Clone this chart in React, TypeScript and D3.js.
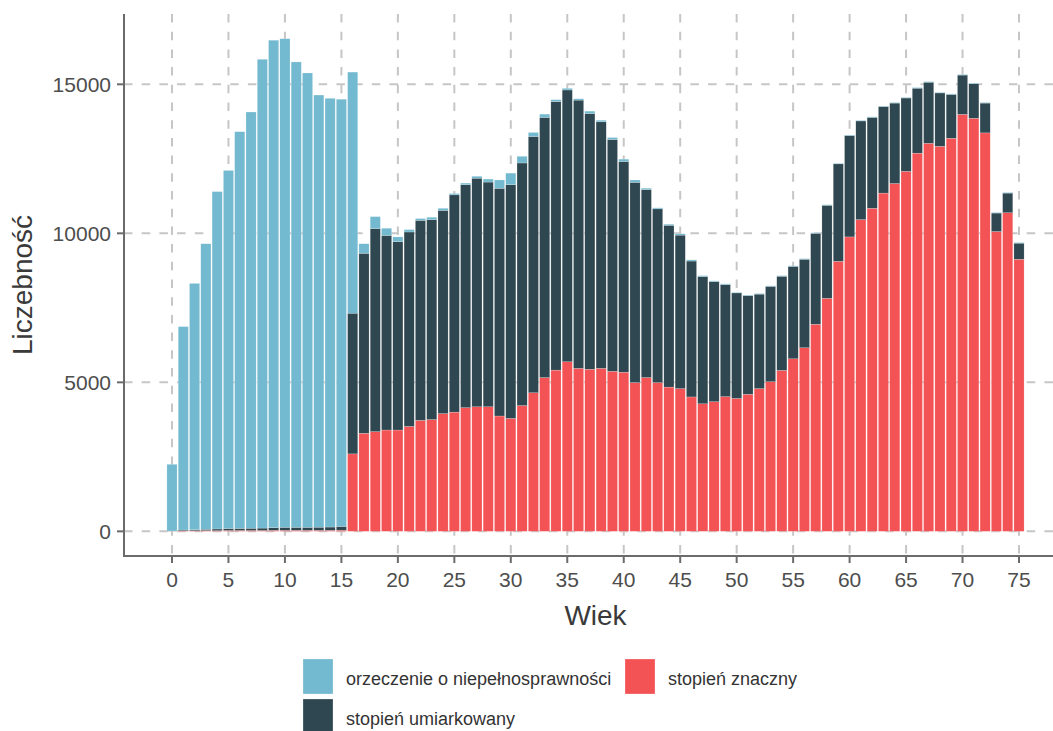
import { useEffect, useRef } from "react";
import * as d3 from "d3";

const ages = d3.range(0, 76);

// stopień znaczny (bottom layer)
const znaczny = [
  5, 20, 20, 25, 25, 30, 30, 30, 30, 35, 35, 35, 35, 35, 35, 40,
  2600, 3290, 3345, 3400, 3400, 3520, 3725, 3750, 3950, 4000, 4150, 4180, 4180, 3870, 3790,
  4220, 4650, 5160, 5410, 5690, 5470, 5440, 5470, 5370, 5340, 4990, 5160, 4990, 4840, 4790,
  4510, 4280, 4350, 4520, 4460, 4600, 4790, 5020, 5400, 5790, 6160, 6950, 7820, 9060, 9880,
  10460, 10840, 11350, 11670, 12080, 12690, 13020, 12920, 13190, 13990, 13860, 13370, 10060, 10690, 9130,
];

// stopień umiarkowany (middle layer)
const umiarkowany = [
  5, 25, 35, 45, 55, 65, 70, 75, 80, 90, 100, 100, 100, 105, 110, 125,
  4720, 6040, 6815, 6530, 6320, 6525, 6710, 6710, 6820, 7290, 7480, 7670, 7540, 7640, 7840,
  8140, 8600, 8730, 9010, 9120, 9000, 8580, 8270, 7780, 7070, 6720, 6310, 5830, 5430, 5150,
  4560, 4270, 4030, 3760, 3540, 3310, 3170, 3200, 3160, 3100, 2970, 3050, 3120, 3270, 3400,
  3310, 3050, 2900, 2700, 2460, 2180, 2050, 1790, 1470, 1320, 1160, 1000, 620, 660, 540,
];

// orzeczenie o niepełnosprawności (top layer)
const orzeczenie = [
  2240, 6825, 8265, 9580, 11320, 12015, 13310, 13965, 15730, 16355, 16395, 15615, 15245, 14500, 14385, 14335,
  8090, 320, 400, 240, 160, 80, 60, 80, 70, 45, 55, 65, 100, 280, 390,
  225, 135, 110, 65, 55, 45, 80, 55, 65, 80, 80, 45, 35, 35, 45,
  40, 30, 25, 25, 20, 20, 20, 20, 20, 20, 20, 20, 20, 20, 20,
  20, 20, 20, 20, 20, 20, 20, 20, 20, 20, 20, 20, 20, 20, 20,
];

const xTicks = d3.range(0, 76, 5);
const yTicks = [0, 5000, 10000, 15000];

const seriesKeys = ["znaczny", "umiarkowany", "orzeczenie"];
const colors: Record<string, string> = {
  orzeczenie: "#73b9cf",
  umiarkowany: "#2f4750",
  znaczny: "#f45356",
};

const legendItems = [
  { key: "orzeczenie", label: "orzeczenie o niepełnosprawności", col: 0, row: 0 },
  { key: "znaczny", label: "stopień znaczny", col: 1, row: 0 },
  { key: "umiarkowany", label: "stopień umiarkowany", col: 0, row: 1 },
];

const font = "'Liberation Sans', Arial, sans-serif";

export default function App() {
  const svgRef = useRef<SVGSVGElement | null>(null);

  useEffect(() => {
    if (!svgRef.current) return;
    document.body.style.margin = "0";

    const svg = d3.select(svgRef.current);
    svg.selectAll("*").remove();

    const left = 124;
    const right = 1067;
    const top = 14;
    const bottom = 556;

    const x = d3.scaleLinear().domain([-4.25, 79.25]).range([left, right]);
    const y = d3.scaleLinear().domain([-827, 17359]).range([bottom, top]);
    const step = x(1) - x(0);
    const barW = step * 0.9;

    const rows = ages.map((a, i) => ({
      age: a,
      znaczny: znaczny[i],
      umiarkowany: umiarkowany[i],
      orzeczenie: orzeczenie[i],
    }));
    const stacked = d3.stack<any>().keys(seriesKeys)(rows);

    // grid
    const grid = svg.append("g");
    grid
      .selectAll("line.h")
      .data(yTicks)
      .join("line")
      .attr("x1", left)
      .attr("x2", 1053)
      .attr("y1", (d) => y(d))
      .attr("y2", (d) => y(d))
      .attr("stroke", "#c6c6c6")
      .attr("stroke-width", 2)
      .attr("stroke-dasharray", "8.5,9.2");
    grid
      .selectAll("line.v")
      .data(xTicks)
      .join("line")
      .attr("x1", (d) => x(d))
      .attr("x2", (d) => x(d))
      .attr("y1", top)
      .attr("y2", bottom)
      .attr("stroke", "#c6c6c6")
      .attr("stroke-width", 2)
      .attr("stroke-dasharray", "8.5,9.2");

    // bars
    svg
      .append("g")
      .selectAll("g")
      .data(stacked)
      .join("g")
      .attr("fill", (s) => colors[s.key])
      .selectAll("rect")
      .data((s) => s)
      .join("rect")
      .attr("x", (d) => x(d.data.age) - barW / 2)
      .attr("width", barW)
      .attr("y", (d) => y(d[1]))
      .attr("height", (d) => Math.max(0, y(d[0]) - y(d[1])))
      .attr("stroke", "#ffffff")
      .attr("stroke-opacity", 0.5)
      .attr("stroke-width", 0.4);

    // axes
    const axisColor = "#6b6b6b";
    svg
      .append("line")
      .attr("x1", left)
      .attr("x2", left)
      .attr("y1", top)
      .attr("y2", bottom + 1)
      .attr("stroke", axisColor)
      .attr("stroke-width", 2);
    svg
      .append("line")
      .attr("x1", left - 1)
      .attr("x2", 1053)
      .attr("y1", bottom)
      .attr("y2", bottom)
      .attr("stroke", axisColor)
      .attr("stroke-width", 2);

    svg
      .append("g")
      .selectAll("line")
      .data(yTicks)
      .join("line")
      .attr("x1", left - 7)
      .attr("x2", left)
      .attr("y1", (d) => y(d))
      .attr("y2", (d) => y(d))
      .attr("stroke", axisColor)
      .attr("stroke-width", 2);
    svg
      .append("g")
      .selectAll("text")
      .data(yTicks)
      .join("text")
      .text((d) => String(d))
      .attr("x", left - 13)
      .attr("y", (d) => y(d))
      .attr("dy", "0.36em")
      .attr("text-anchor", "end")
      .style("font-family", font)
      .style("font-size", "21px")
      .style("fill", "#4d4d4d");

    svg
      .append("g")
      .selectAll("line")
      .data(xTicks)
      .join("line")
      .attr("x1", (d) => x(d))
      .attr("x2", (d) => x(d))
      .attr("y1", bottom)
      .attr("y2", bottom + 7)
      .attr("stroke", axisColor)
      .attr("stroke-width", 2);
    svg
      .append("g")
      .selectAll("text")
      .data(xTicks)
      .join("text")
      .text((d) => String(d))
      .attr("x", (d) => x(d))
      .attr("y", 587)
      .attr("text-anchor", "middle")
      .style("font-family", font)
      .style("font-size", "21px")
      .style("fill", "#4d4d4d");

    // titles
    svg
      .append("text")
      .text("Wiek")
      .attr("x", (left + right) / 2)
      .attr("y", 625)
      .attr("text-anchor", "middle")
      .style("font-family", font)
      .style("font-size", "28px")
      .style("fill", "#3a3a3a");
    svg
      .append("text")
      .text("Liczebność")
      .attr("transform", `translate(32, ${(top + bottom) / 2}) rotate(-90)`)
      .attr("text-anchor", "middle")
      .style("font-family", font)
      .style("font-size", "28px")
      .style("fill", "#3a3a3a");

    // legend
    const colX = [303, 625];
    const rowY = [659, 699];
    const lg = svg
      .append("g")
      .selectAll("g")
      .data(legendItems)
      .join("g")
      .attr("transform", (d) => `translate(${colX[d.col]}, ${rowY[d.row]})`);
    lg.append("rect")
      .attr("width", 30)
      .attr("height", 35)
      .attr("fill", (d) => colors[d.key])
      .attr("stroke", "#ffffff")
      .attr("stroke-opacity", 0.5)
      .attr("stroke-width", 0.5);
    lg.append("text")
      .text((d) => d.label)
      .attr("x", 43)
      .attr("y", 26)
      .style("font-family", font)
      .style("font-size", "18px")
      .style("fill", "#333333");
  }, []);

  return <svg ref={svgRef} width={1053} height={731} style={{ display: "block" }} />;
}
